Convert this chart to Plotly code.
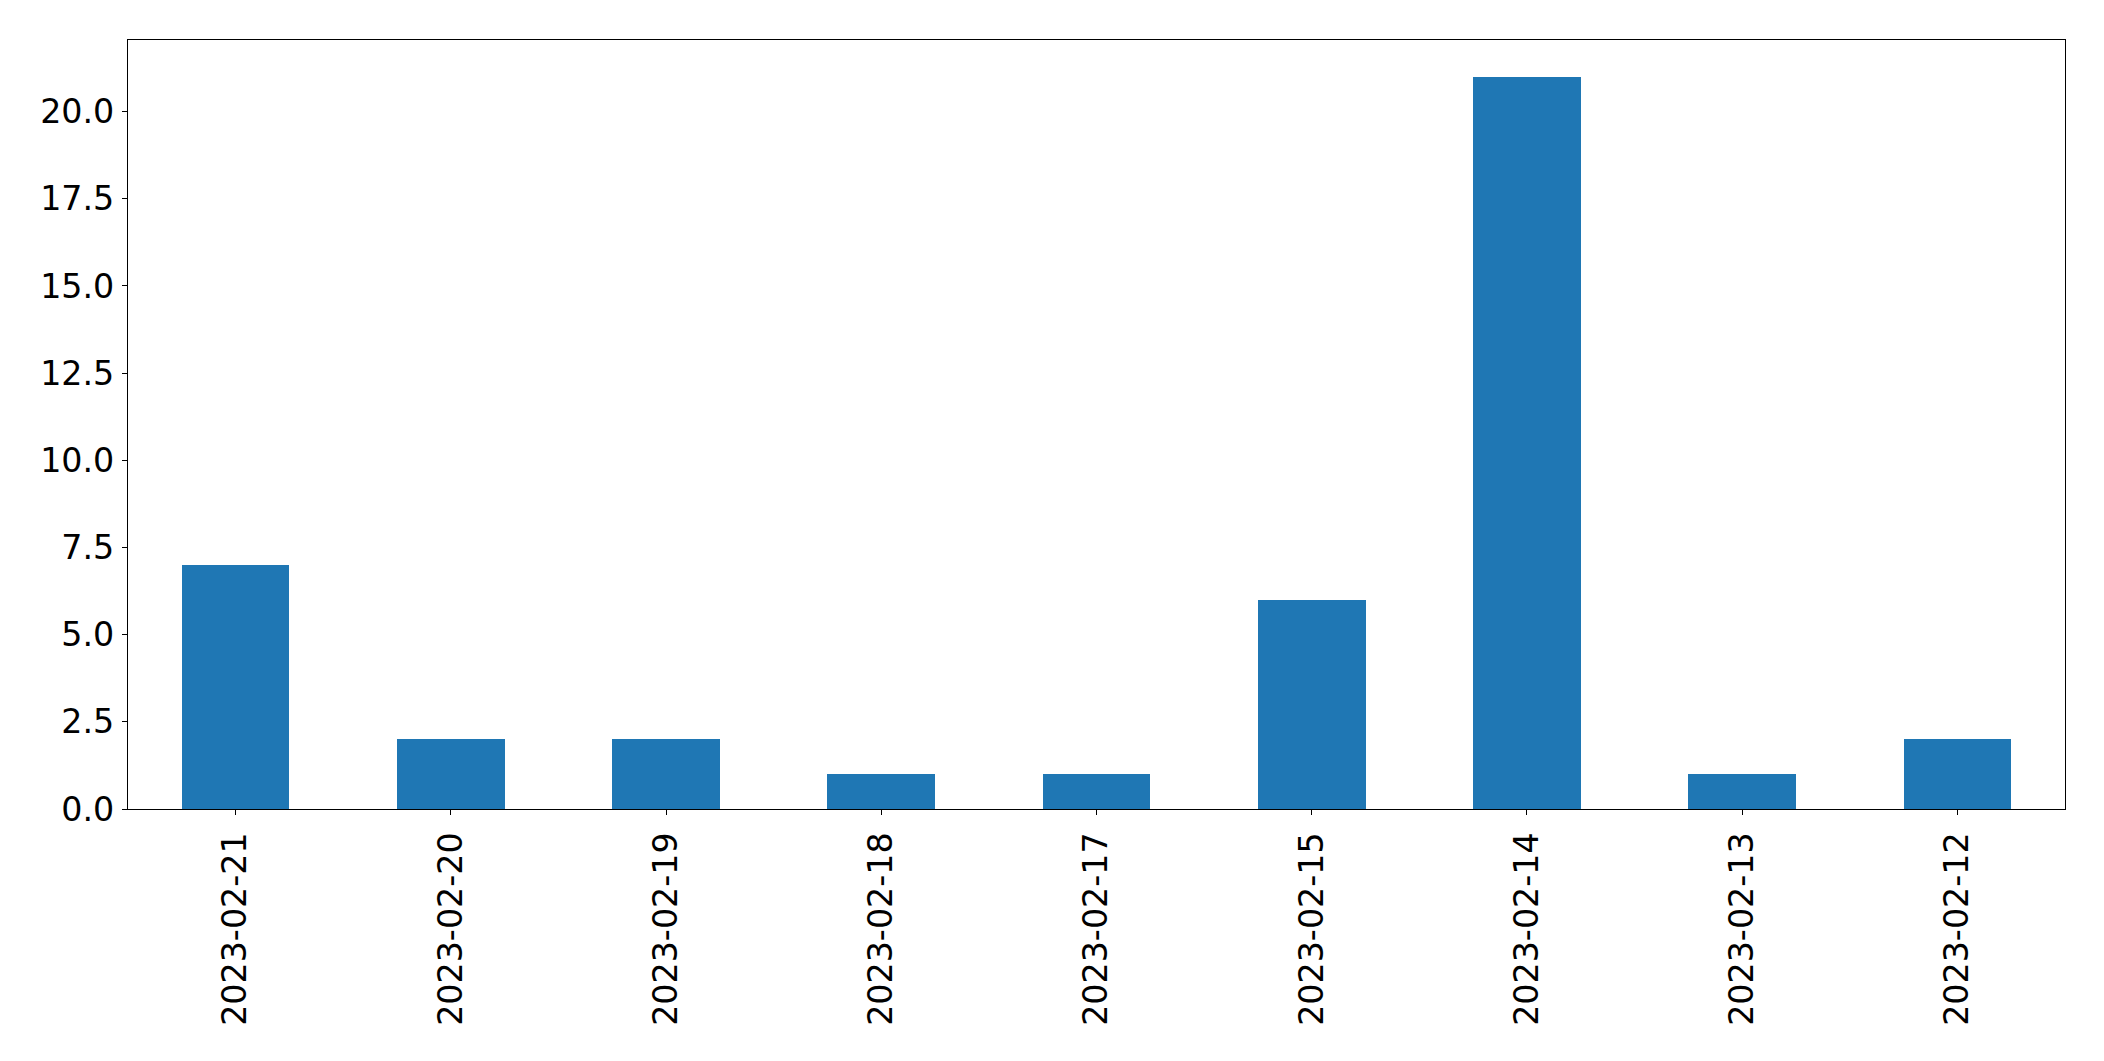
import plotly.graph_objects as go

dates = ["2023-02-21", "2023-02-20", "2023-02-19", "2023-02-18", "2023-02-17",
         "2023-02-15", "2023-02-14", "2023-02-13", "2023-02-12"]
counts = [7, 2, 2, 1, 1, 6, 21, 1, 2]
y_ticks = [0, 2.5, 5, 7.5, 10, 12.5, 15, 17.5, 20]

fig = go.Figure(go.Bar(x=dates, y=counts, width=0.5, marker=dict(color="#1f77b4", line=dict(width=0))))

font = dict(family="DejaVu Sans", size=33.3, color="black")
fig.update_layout(
    width=2104, height=1061,
    margin=dict(l=127.5, r=39, t=39.5, b=252, pad=0),
    paper_bgcolor="white", plot_bgcolor="white",
    showlegend=False, bargap=0,
    font=font,
)
fig.update_xaxes(
    type="category", range=[-0.5, 8.5], tickangle=-90,
    showline=True, mirror=True, linecolor="black", linewidth=1.1,
    ticks="outside", ticklen=5, tickwidth=1.1, tickcolor="black",
    showgrid=False, zeroline=False, tickfont=font, ticklabelstandoff=4,
)
fig.update_yaxes(
    range=[0, 22.05], tickvals=y_ticks, tickformat=".1f",
    showline=True, mirror=True, linecolor="black", linewidth=1.1,
    ticks="outside", ticklen=5, tickwidth=1.1, tickcolor="black",
    showgrid=False, zeroline=False, tickfont=font, ticklabelstandoff=1,
)
fig.write_html("out.html")
